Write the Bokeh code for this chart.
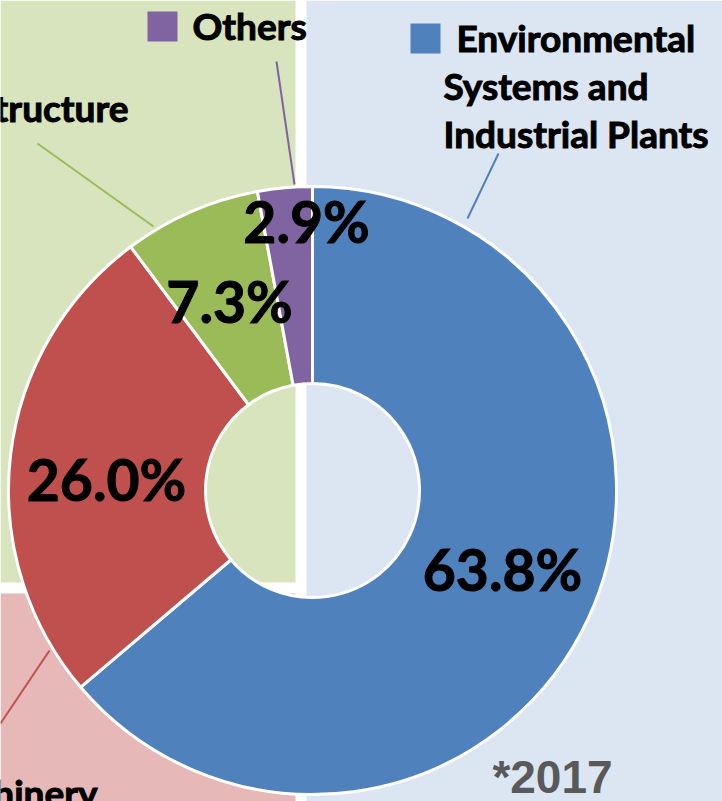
import math
from bokeh.plotting import figure
from bokeh.models import Range1d
from bokeh.core.properties import value
from bokeh.embed import file_html
from bokeh.resources import INLINE

# ---- data ----
categories = ["Environmental Systems and Industrial Plants", "Machinery", "Infrastructure", "Others"]
shares = [63.8, 26.0, 7.3, 2.9]
pct_labels = ["63.8%", "26.0%", "7.3%", "2.9%"]
colors = ["#4F81BD", "#C0504D", "#9BBB59", "#8064A2"]
year_note = "*2017"

W, H = 722, 801
def Y(y):
    return H - y

def YB(y, size):
    # baseline correction for rendered text
    return H - (y - 0.4 * size)

p = figure(width=W, height=H, x_range=Range1d(0, W), y_range=Range1d(0, H),
           output_backend="svg", toolbar_location=None, min_border=0)
p.axis.visible = False
p.grid.visible = False
p.outline_line_color = None
p.background_fill_color = "white"
p.border_fill_color = "white"

# background panels
p.quad(left=[0], right=[295], top=[Y(0)], bottom=[Y(582)], fill_color="#D7E4BD", line_color=None)
p.quad(left=[306], right=[722], top=[Y(0)], bottom=[Y(801)], fill_color="#DCE6F2", line_color=None)
p.quad(left=[0], right=[295], top=[Y(593)], bottom=[Y(801)], fill_color="#E6B9B8", line_color=None)

# donut
total = sum(shares)
starts, ends = [], []
acc = 0.0
for s in shares:
    starts.append(math.pi / 2 - 2 * math.pi * acc / total)
    acc += s
    ends.append(math.pi / 2 - 2 * math.pi * acc / total)
cx, cy = 312, Y(490)
p.annular_wedge(x=cx, y=cy, inner_radius=107, outer_radius=304,
                start_angle=starts, end_angle=ends, direction="clock",
                fill_color=colors, line_color="white", line_width=3)

# leader lines
p.line([498, 467], [Y(153), Y(218)], line_color=colors[0], line_width=2)
p.line([0, 49], [Y(723), Y(650)], line_color=colors[1], line_width=2)
p.line([37, 153], [Y(143), Y(226)], line_color=colors[2], line_width=2)
p.line([276, 294], [Y(61), Y(184)], line_color=colors[3], line_width=2)

# legend keys
p.quad(left=[410], right=[440], top=[Y(23)], bottom=[Y(53)], fill_color=colors[0], line_color=None)
p.quad(left=[147], right=[177], top=[Y(11)], bottom=[Y(41)], fill_color=colors[3], line_color=None)

font = value("Lato")
LS = 37
common = dict(text_font=font, text_font_style="bold", text_color="black",
              text_baseline="alphabetic", text_outline_color="black")
# category labels
p.text(x=[456, 443, 443], y=[YB(52, LS), YB(100, LS), YB(148, LS)],
       text=["Environmental", "Systems and", "Industrial Plants"],
       text_font_size=f"{LS}px", text_align="left", **common)
p.text(x=[192], y=[YB(40, LS)], text=[categories[3]],
       text_font_size=f"{LS}px", text_align="left", **common)
p.text(x=[128], y=[YB(122, LS)], text=[categories[2]],
       text_font_size=f"{LS}px", text_align="right", **common)
p.text(x=[97], y=[YB(807, LS)], text=[categories[1]],
       text_font_size=f"{LS}px", text_align="right", **common)

# percentage labels
PS = 57
p.text(x=[502, 106, 229, 306], y=[YB(591, PS), YB(501, PS), YB(323, PS), YB(243, PS)],
       text=pct_labels, text_font_size=f"{PS}px", text_align="center", **common)

# year note
NS = 46
p.text(x=[552], y=[YB(795, NS)], text=[year_note], text_font=value("Liberation Sans"),
       text_font_style="bold", text_font_size=f"{NS}px", text_color="#595959",
       text_baseline="alphabetic", text_align="center")

open("out.html", "w").write(file_html(p, INLINE))
